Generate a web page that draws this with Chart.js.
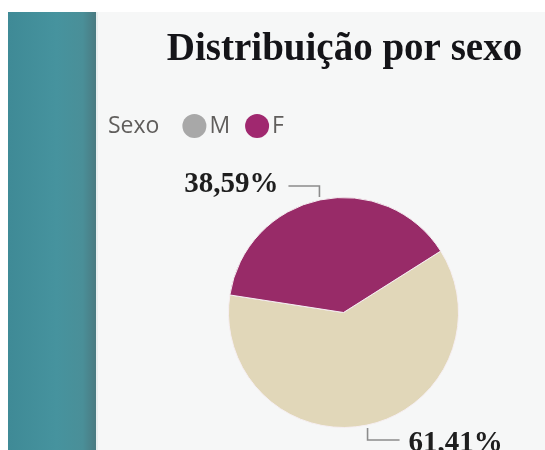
<!DOCTYPE html>
<html>
<head>
<meta charset="utf-8">
<script src="https://cdn.jsdelivr.net/npm/chart.js@4/dist/chart.umd.min.js"></script>
<style>
  html, body { margin: 0; padding: 0; background: #ffffff; width: 545px; height: 450px; overflow: hidden; }
  #bar { position: absolute; left: 8px; top: 12px; width: 88px; height: 438px;
         background: linear-gradient(to right, #3f8a96 0%, #46939e 55%, #4a8f98 85%, #4a7a81 100%); }
  #panel { position: absolute; left: 96px; top: 12px; width: 449px; height: 438px; background: #f6f7f7;
           border-left: 2px solid #e9eeee; box-sizing: border-box; }
  #wrap { position: absolute; left: 0; top: 0; width: 545px; height: 450px; }
</style>
</head>
<body>
<div id="bar"></div>
<div id="panel"></div>
<div id="wrap"><canvas id="c" width="545" height="450"></canvas></div>
<script>
// ---- data ----
const categories = ['M', 'F'];
const values = [61.41, 38.59];
const sliceColors = ['#e1d7b9', '#982b68'];
const legendColors = ['#a8a8a8', '#a0286f'];
const titleText = 'Distribuição por sexo';
const legendTitle = 'Sexo';

function fmt(v) { return v.toFixed(2).replace('.', ',') + '%'; }

const overlay = {
  id: 'overlay',
  afterDraw(chart) {
    const ctx = chart.ctx;
    const area = chart.chartArea;
    const cx = (area.left + area.right) / 2;
    ctx.save();
    // title
    ctx.fillStyle = '#141418';
    ctx.font = 'bold 39px "Liberation Serif", "Times New Roman", serif';
    ctx.textAlign = 'center';
    ctx.textBaseline = 'alphabetic';
    ctx.fillText(titleText, cx + 1, 60);

    // legend
    ctx.font = '23px "Open Sans", "Noto Sans", sans-serif';
    ctx.textBaseline = 'middle';
    ctx.textAlign = 'left';
    ctx.fillStyle = '#605e5c';
    let x = 108;
    const ly = 126;
    ctx.fillText(legendTitle, x, ly);
    x += ctx.measureText(legendTitle).width + 23;
    categories.forEach((c, i) => {
      ctx.beginPath();
      ctx.fillStyle = legendColors[i];
      ctx.arc(x + 12, ly, 12, 0, Math.PI * 2);
      ctx.fill();
      x += 27;
      ctx.fillStyle = '#605e5c';
      ctx.fillText(c, x, ly);
      x += ctx.measureText(c).width + 15;
    });

    // data labels with leader lines
    const meta = chart.getDatasetMeta(0);
    ctx.font = 'bold 29px "Liberation Serif", "Times New Roman", serif';
    meta.data.forEach((arc, i) => {
      const p = arc.getProps(['x', 'y', 'startAngle', 'endAngle', 'outerRadius'], true);
      const mid = (p.startAngle + p.endAngle) / 2;
      const r = p.outerRadius + 3;
      const sx = p.x + Math.cos(mid) * r;
      const sy = p.y + Math.sin(mid) * r;
      const down = Math.sin(mid) > 0;
      const right = Math.cos(mid) > 0;
      const vy = sy + (down ? 12 : -11);
      const hx = sx + (right ? 32 : -31);
      ctx.strokeStyle = '#8c8c8c';
      ctx.lineWidth = 1.6;
      ctx.beginPath();
      ctx.moveTo(sx, sy);
      ctx.lineTo(sx, vy);
      ctx.lineTo(hx, vy);
      ctx.stroke();
      ctx.fillStyle = '#1e1e1e';
      ctx.textAlign = right ? 'left' : 'right';
      ctx.textBaseline = 'middle';
      ctx.fillText(fmt(values[i]), hx + (right ? 9 : -10), vy + (down ? 3 : -1));
    });
    ctx.restore();
  }
};

new Chart(document.getElementById('c'), {
  type: 'pie',
  data: {
    labels: categories,
    datasets: [{
      data: values,
      backgroundColor: sliceColors,
      borderColor: '#f5eef1',
      borderWidth: 1
    }]
  },
  options: {
    responsive: false,
    animation: false,
    rotation: 57.7,
    layout: { padding: { left: 228, right: 86, top: 197, bottom: 22 } },
    plugins: {
      legend: { display: false },
      tooltip: { enabled: false },
      title: { display: false }
    }
  },
  plugins: [overlay]
});
</script>
</body>
</html>
